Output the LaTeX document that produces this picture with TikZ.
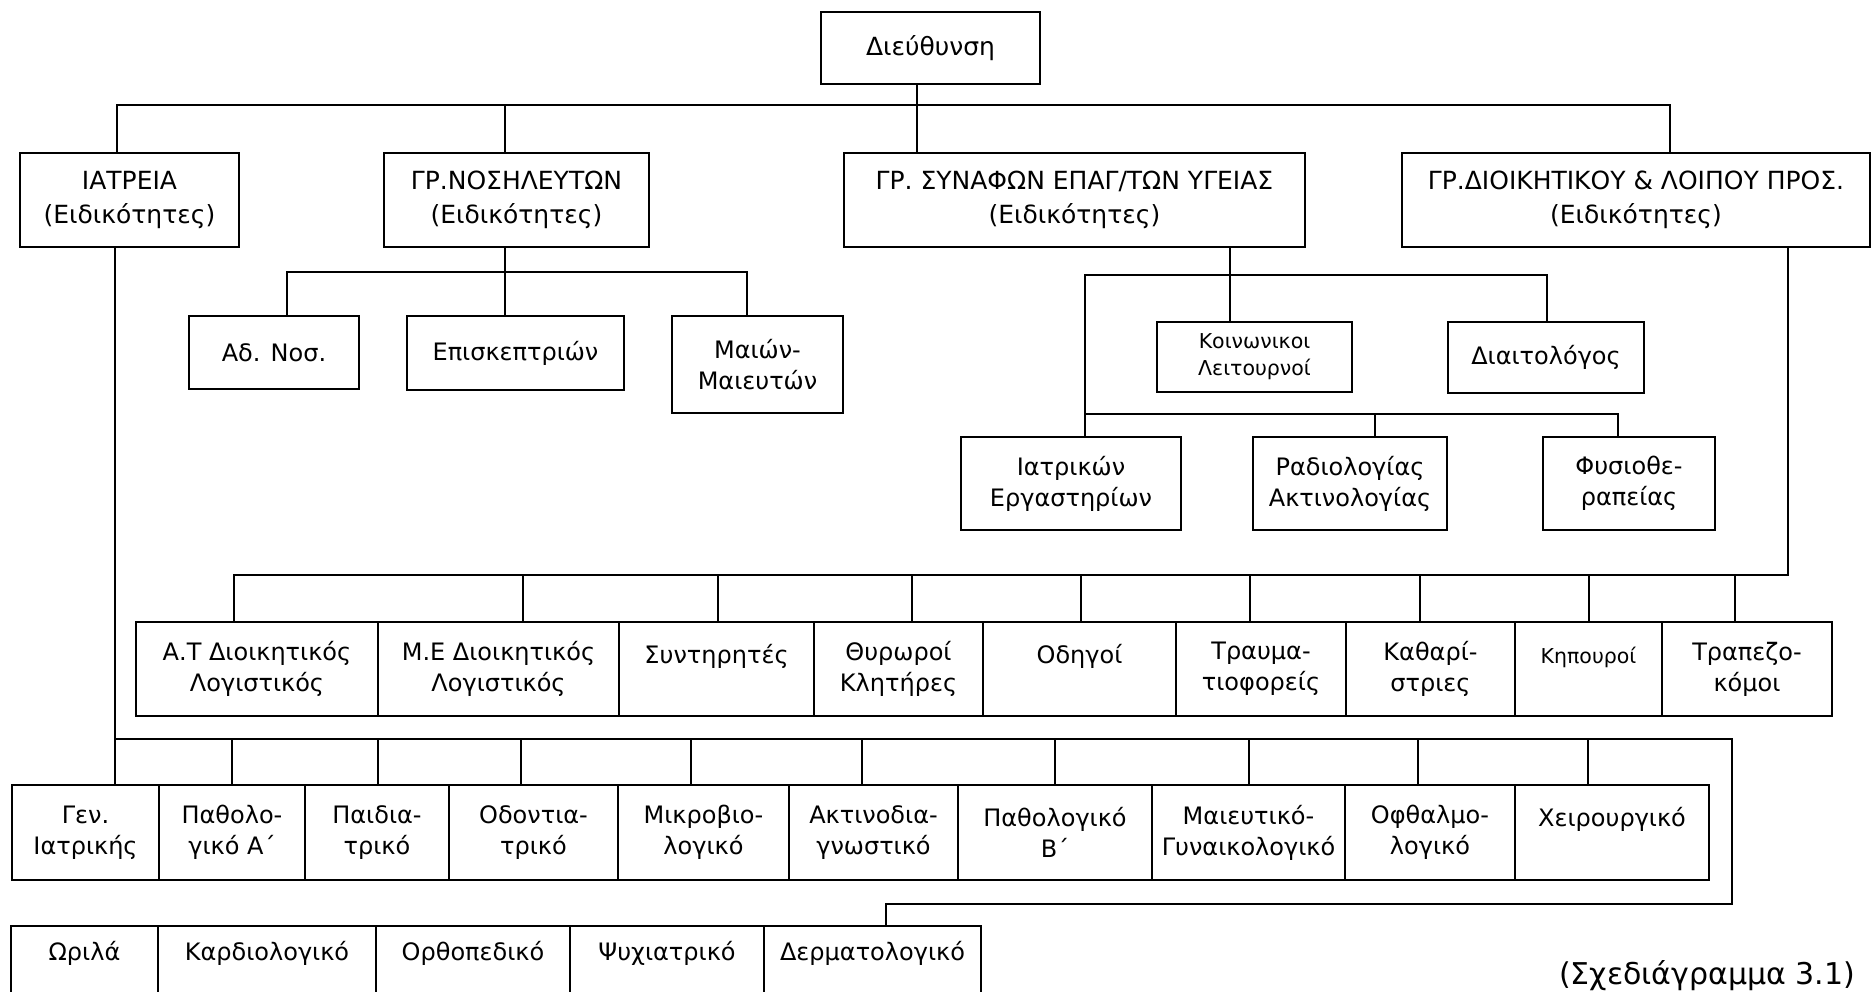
\documentclass[tikz,border=0pt]{standalone}
\usepackage{fontspec}
\setmainfont{DejaVu Sans}
\usetikzlibrary{positioning}
\tikzset{box/.style = {draw, line width = 2pt, outer sep = 0pt, inner sep = 0pt, align = center, font = \fontsize{24}{31}\selectfont}}
\tikzset{head/.style = {box, font = \fontsize{25}{34}\selectfont}}
\tikzset{small/.style = {font = \fontsize{20.5}{27}\selectfont}}
\tikzset{sz/.style 2 args = {minimum width = #1, minimum height = #2}}
\tikzset{wire/.style = {line width = 2pt}}

\begin{document}
\begin{tikzpicture}[x=1pt, y=-1pt]
    \useasboundingbox (0, 0) rectangle (1872, 992);
    \clip (0, 0) rectangle (1872, 992);

    \node [head, sz={219}{72}] (dir) at (930.5, 48) {Διεύθυνση};

    \node [head, sz={219}{94}] (iatreia) at (129.5, 200) {ΙΑΤΡΕΙΑ\\(Ειδικότητες)};
    \node [head, sz={265}{94}] (nos) at (516.5, 200) {ΓΡ.ΝΟΣΗΛΕΥΤΩΝ\\(Ειδικότητες)};
    \node [head, sz={461}{94}] (syn) at (1074.5, 200) {ΓΡ. ΣΥΝΑΦΩΝ ΕΠΑΓ/ΤΩΝ ΥΓΕΙΑΣ\\(Ειδικότητες)};
    \node [head, sz={468}{94}] (diok) at (1636, 200) {ΓΡ.ΔΙΟΙΚΗΤΙΚΟΥ \& ΛΟΙΠΟΥ ΠΡΟΣ.\\(Ειδικότητες)};

    \node [box, sz={170}{73}] (adnos) at (274, 352.5) {Αδ. Νοσ.};
    \node [box, sz={217}{74}] (episk) at (515.5, 353) {Επισκεπτριών};
    \node [box, sz={171}{97}] (maion) at (757.5, 364.5) {Μαιών-\\Μαιευτών};

    \node [box, small, sz={195}{70}] (koin) at (1254.5, 357) {Κοινωνικοι\\Λειτουρνοί};
    \node [box, sz={196}{71}] (diait) at (1546, 357.5) {Διαιτολόγος};
    \node [box, sz={220}{93}] (iatrik) at (1071, 483.5) {Ιατρικών\\Εργαστηρίων};
    \node [box, sz={194}{93}] (radio) at (1350, 483.5) {Ραδιολογίας\\Ακτινολογίας};
    \node [box, sz={172}{93}] (fysio) at (1629, 483.5) {Φυσιοθε-\\ραπείας};

    \node [box, sz={242}{94}] (at) at (257, 669) {Α.Τ Διοικητικός\\Λογιστικός};
    \node [box, sz={241}{94}, right=0pt of at] (me) {Μ.Ε Διοικητικός\\Λογιστικός};
    \node [box, sz={195}{94}, right=0pt of me] (synt) {Συντηρητές\\\mbox{}};
    \node [box, sz={169}{94}, right=0pt of synt] (thyr) {Θυρωροί\\Κλητήρες};
    \node [box, sz={193}{94}, right=0pt of thyr] (odig) {Οδηγοί\\\mbox{}};
    \node [box, sz={170}{94}, right=0pt of odig] (trauma) {Τραυμα-\\τιοφορείς};
    \node [box, sz={169}{94}, right=0pt of trauma] (kath) {Καθαρί-\\στριες};
    \node [box, small, sz={147}{94}, right=0pt of kath] (kip) {Κηπουροί\\\mbox{}};
    \node [box, sz={170}{94}, right=0pt of kip] (trap) {Τραπεζο-\\κόμοι};

    \node [box, sz={147}{95}] (gen) at (85.5, 832.5) {Γεν.\\Ιατρικής};
    \node [box, sz={146}{95}, right=0pt of gen] (pathA) {Παθολο-\\γικό Α΄};
    \node [box, sz={144}{95}, right=0pt of pathA] (paid) {Παιδια-\\τρικό};
    \node [box, sz={169}{95}, right=0pt of paid] (odont) {Οδοντια-\\τρικό};
    \node [box, sz={171}{95}, right=0pt of odont] (mikro) {Μικροβιο-\\λογικό};
    \node [box, sz={169}{95}, right=0pt of mikro] (aktino) {Ακτινοδια-\\γνωστικό};
    \node [box, sz={194}{95}, right=0pt of aktino] (pathB) {Παθολογικό\\Β΄};
    \node [box, sz={193}{95}, right=0pt of pathB] (maieut) {Μαιευτικό-\\Γυναικολογικό};
    \node [box, sz={170}{95}, right=0pt of maieut] (ofth) {Οφθαλμο-\\λογικό};
    \node [box, sz={194}{95}, right=0pt of ofth] (cheir) {Χειρουργικό\\\mbox{}};

    \node [box, sz={147}{80}] (oril) at (84.5, 966) {Ωριλά\\\mbox{}};
    \node [box, sz={218}{80}, right=0pt of oril] (kardio) {Καρδιολογικό\\\mbox{}};
    \node [box, sz={194}{80}, right=0pt of kardio] (ortho) {Ορθοπεδικό\\\mbox{}};
    \node [box, sz={194}{80}, right=0pt of ortho] (psych) {Ψυχιατρικό\\\mbox{}};
    \node [box, sz={217}{80}, right=0pt of psych] (derm) {Δερματολογικό\\\mbox{}};

    \node [font = \fontsize{30}{36}\selectfont] (caption) at (1707, 976) {(Σχεδιάγραμμα 3.1)};

    \coordinate (top w) at (117, 105);
    \coordinate (top n) at (505, 105);
    \coordinate (top s) at (917, 105);
    \coordinate (top e) at (1670, 105);
    \draw [wire] (dir.south -| top s) -- (syn.north -| top s);
    \draw [wire] (iatreia.north -| top w) -- (top w) -- (top e) -- (diok.north -| top e);
    \draw [wire] (top n) -- (nos.north -| top n);

    \coordinate (nos w) at (287, 272);
    \coordinate (nos m) at (505, 272);
    \coordinate (nos e) at (747, 272);
    \draw [wire] (nos.south -| nos m) -- (episk.north -| nos m);
    \draw [wire] (adnos.north -| nos w) -- (nos w) -- (nos e) -- (maion.north -| nos e);

    \coordinate (syn w) at (1085, 275);
    \coordinate (syn m) at (1230, 275);
    \coordinate (syn e) at (1547, 275);
    \coordinate (lab m) at (1375, 414);
    \coordinate (lab e) at (1618, 414);
    \draw [wire] (syn.south -| syn m) -- (koin.north -| syn m);
    \draw [wire] (iatrik.north -| syn w) -- (syn w) -- (syn e) -- (diait.north -| syn e);
    \draw [wire] (syn w |- lab m) -- (lab e) -- (fysio.north -| lab e);
    \draw [wire] (lab m) -- (radio.north -| lab m);

    \coordinate (dio w) at (234, 575);
    \coordinate (dio e) at (1788, 575);
    \draw [wire] (diok.south -| dio e) -- (dio e) -- (dio w) -- (at.north -| dio w);
    \foreach \x/\n in {523/me, 718/synt, 912/thyr, 1081/odig, 1250/trauma, 1420/kath, 1589/kip, 1735/trap}
      \draw [wire] (\x, 575) -- (\n.north -| \x, 575);

    \coordinate (iat w) at (115, 739);
    \coordinate (iat e) at (1732, 739);
    \coordinate (iat c) at (1732, 904);
    \coordinate (iat d) at (886, 904);
    \draw [wire] (iatreia.south -| iat w) -- (gen.north -| iat w);
    \draw [wire] (iat w) -- (iat e) -- (iat c) -- (iat d) -- (derm.north -| iat d);
    \foreach \x/\n in {232/pathA, 378/paid, 521/odont, 691/mikro, 862/aktino, 1055/pathB, 1249/maieut, 1418/ofth, 1588/cheir}
      \draw [wire] (\x, 739) -- (\n.north -| \x, 739);
  \end{tikzpicture}
\end{document}
